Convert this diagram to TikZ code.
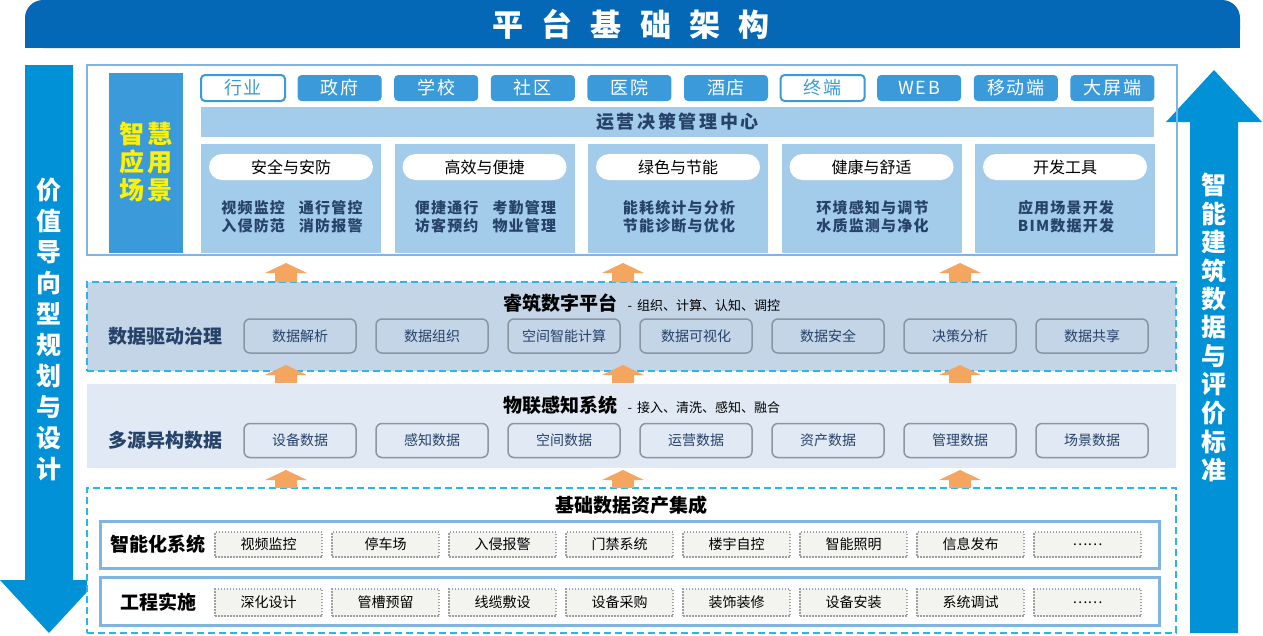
\documentclass[tikz,border=0pt]{standalone}
\usepackage{fontspec}
\setmainfont{Noto Sans CJK SC}
\usetikzlibrary{positioning,calc}
\definecolor{bannerblue}{RGB}{4,104,182}
\definecolor{arrowblue}{RGB}{0,145,215}
\definecolor{tagblue}{RGB}{59,154,217}
\definecolor{paleblue}{RGB}{163,203,234}
\definecolor{frameblue}{RGB}{127,181,224}
\definecolor{navy}{RGB}{38,66,105}
\definecolor{platfill}{RGB}{195,213,231}
\definecolor{sensefill}{RGB}{225,234,244}
\definecolor{dashcyan}{RGB}{41,182,232}
\definecolor{boxgrey}{RGB}{138,150,163}
\definecolor{uporange}{RGB}{244,165,96}
\definecolor{dotfill}{RGB}{243,243,240}
\definecolor{labyellow}{RGB}{255,242,0}
\newcommand{\fsz}[1]{\fontsize{#1}{#1}\selectfont}

\begin{document}
\begin{tikzpicture}[x=1pt,y=-1pt,
  tag/.style={fill=tagblue,text=white,rounded corners=4,minimum width=84,minimum height=26,inner sep=0,font=\fsz{18}\addfontfeature{LetterSpace=10}},
  tagline/.style={tag,fill=white,draw=tagblue,line width=2,text=tagblue},
  panel/.style={fill=paleblue,minimum width=180,minimum height=109,inner sep=0},
  pill/.style={fill=white,rounded corners=13,minimum width=164,minimum height=26,inner sep=0,font=\fsz{16}},
  ptext/.style={text=navy,font=\fontsize{15}{18}\selectfont\bfseries\addfontfeature{LetterSpace=8},align=center,inner sep=0},
  dbox/.style={draw=boxgrey,line width=1.5,rounded corners=6,minimum width=112,minimum height=34,inner sep=0,text=navy,font=\fsz{14}},
  sbox/.style={draw=gray!75,dash pattern=on 1.5pt off 1.5pt,line width=1.2,fill=dotfill,minimum width=107,minimum height=25,inner sep=0,font=\fsz{14}},
  rowbox/.style={draw=frameblue,line width=3,fill=white,minimum width=1059,inner sep=0},
  layer/.style={minimum width=1089,inner sep=0},
  dashframe/.style={draw=dashcyan,line width=1.5,dash pattern=on 7pt off 4pt},
  lab/.style={font=\fsz{19}\bfseries,inner sep=0},
  vlab/.style={text=white,font=\fsz{25}\bfseries,inner sep=0},
  uparrow/.style={fill=uporange}
]
\useasboundingbox (0,0) rectangle (1263,635);

% banner
\fill[bannerblue,rounded corners=18] (25,0) rectangle (1240,48);
\fill[bannerblue] (25,24) rectangle (1240,48);
\node[text=white,font=\fsz{31}\bfseries\addfontfeature{LetterSpace=59},inner sep=0] (title) at (631,24) {平台基础架构};

% side arrows
\fill[arrowblue] (25,65) -- (73,65) -- (73,580) -- (98,580) -- (49,633) -- (0,580) -- (25,580) -- cycle;
\foreach \c [count=\i] in {价,值,导,向,型,规,划,与,设,计}
  \node[vlab] (lv\i) at (49,159+31*\i) {\c};
\fill[arrowblue] (1190,633) -- (1238,633) -- (1238,122) -- (1262,122) -- (1214,70) -- (1166,122) -- (1190,122) -- cycle;
\foreach \c [count=\i] in {智,能,建,筑,数,据,与,评,价,标,准}
  \node[vlab] (rv\i) at (1214,156.5+28.5*\i) {\c};

% application scenes
\node[draw=frameblue,line width=2.5,minimum width=1090,minimum height=190,inner sep=0] (app) at (632,160) {};
\node[fill=tagblue,minimum width=74,minimum height=180,inner sep=0] (scene) at (146,163) {};
\node[text=labyellow,font=\fontsize{25}{28}\selectfont\bfseries\addfontfeature{LetterSpace=10},align=center,inner sep=0] (scenelab) at (146,162) {智慧\\应用\\场景};
\foreach \t [count=\i from 0] in {行业,政府,学校,社区,医院,酒店,终端,WEB,移动端,大屏端}
  \node[tag] (tg\i) at (243+96.6*\i,88) {\t};
\node[tagline] at (tg0) {行业};
\node[tagline] at (tg6) {终端};
\node[fill=paleblue,minimum width=953,minimum height=30,inner sep=0,text=navy,font=\fsz{18}\bfseries\addfontfeature{LetterSpace=15}] (center) at (677.5,122) {运营决策管理中心};
\foreach \h/\b [count=\i from 0] in {安全与安防/{视频监控\hspace{14pt}通行管控\\入侵防范\hspace{14pt}消防报警},
    高效与便捷/{便捷通行\hspace{14pt}考勤管理\\访客预约\hspace{14pt}物业管理},
    绿色与节能/{能耗统计与分析\\节能诊断与优化},
    健康与舒适/{环境感知与调节\\水质监测与净化},
    开发工具/{应用场景开发\\BIM数据开发}}{
  \node[panel] (pn\i) at (291+193.5*\i,198.5) {};
  \node[pill] (ph\i) at (291+193.5*\i,167) {\h};
  \node[ptext] (pt\i) at (292+193.5*\i,217) {\b};
}

% data platform
\node[layer,fill=platfill,dashframe,minimum height=89] (plat) at (631.5,326.5) {};
\node[lab,anchor=west] (plattitle) at (503,303) {睿筑数字平台};
\node[anchor=base west,font=\fsz{13},inner sep=0] (platsub) at ([xshift=10]plattitle.base east) {-\hspace{5pt}组织、计算、认知、调控};
\node[lab,text=navy] (platlab) at (165,336) {数据驱动治理};
\foreach \t [count=\i from 0] in {数据解析,数据组织,空间智能计算,数据可视化,数据安全,决策分析,数据共享}
  \node[dbox] (pb\i) at (300+132*\i,336) {\t};

% sensing layer
\node[layer,fill=sensefill,minimum height=84] (sense) at (631.5,426) {};
\node[lab,anchor=west] (sensetitle) at (503,405) {物联感知系统};
\node[anchor=base west,font=\fsz{13},inner sep=0] (sensesub) at ([xshift=10]sensetitle.base east) {-\hspace{5pt}接入、清洗、感知、融合};
\node[lab,text=navy] (senselab) at (165,440) {多源异构数据};
\foreach \t [count=\i from 0] in {设备数据,感知数据,空间数据,运营数据,资产数据,管理数据,场景数据}
  \node[dbox] (sb\i) at (300+132*\i,440.5) {\t};

% base data
\node[layer,dashframe,fill=white,minimum height=145] (base) at (631.5,560.5) {};
\node[lab] (basetitle) at (631,505) {基础数据资产集成};
\node[rowbox,minimum height=47] (row1) at (629.5,544.5) {};
\node[rowbox,minimum height=48] (row2) at (629.5,601) {};
\node[lab] (row1lab) at (158,544) {智能化系统};
\node[lab] (row2lab) at (158,602) {工程实施};
\foreach \t [count=\i from 0] in {视频监控,停车场,入侵报警,门禁系统,楼宇自控,智能照明,信息发布,……}
  \node[sbox] (ia\i) at (268.5+117*\i,544.5) {\t};
\foreach \t [count=\i from 0] in {深化设计,管槽预留,线缆敷设,设备采购,装饰装修,设备安装,系统调试,……}
  \node[sbox,minimum height=27] (ib\i) at (268.5+117*\i,602.5) {\t};

% orange arrows between layers
\foreach \ax in {286,623,960}
  \foreach \ay/\by in {263/282,365/383,470/488}
    \fill[uparrow] (\ax-11,\by) -- (\ax-11,\ay+10) -- (\ax-21,\ay+10) -- (\ax,\ay) -- (\ax+21,\ay+10) -- (\ax+11,\ay+10) -- (\ax+11,\by) -- cycle;
\end{tikzpicture}
\end{document}
